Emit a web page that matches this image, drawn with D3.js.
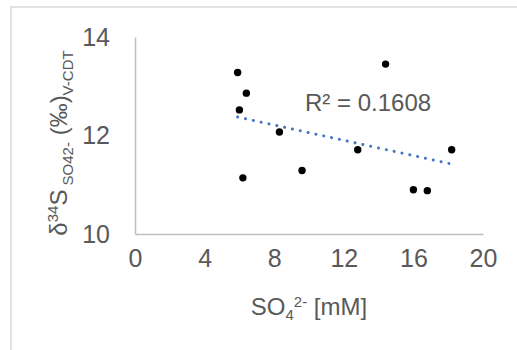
<!DOCTYPE html>
<html>
<head>
<meta charset="utf-8">
<script src="https://cdn.jsdelivr.net/npm/d3@7"></script>
<style>
  html, body { margin: 0; padding: 0; background: #fff; }
  svg { display: block; font-family: Arial, "Liberation Sans", sans-serif; }
</style>
</head>
<body>
<svg id="chart" width="517" height="350"></svg>
<script>
// sulfate concentration [mM] and d34S of sulfate
const so4 = [5.9, 6.0, 6.2, 6.4, 8.3, 9.6, 12.8, 14.4, 16.0, 16.8, 18.2];
const d34S = [13.28, 12.52, 11.14, 12.86, 12.07, 11.29, 11.71, 13.45, 10.90, 10.88, 11.71];
const xTicks = [0, 4, 8, 12, 16, 20];
const yTicks = [10, 12, 14];
const r2Label = 'R² = 0.1608';

const textColor = '#595959';
const axisColor = '#bfbfbf';

const svg = d3.select('#chart');

// outer chart frame (cropped at right/bottom)
svg.append('rect')
  .attr('x', 11).attr('y', 7)
  .attr('width', 1000).attr('height', 1000)
  .attr('fill', '#fff')
  .attr('stroke', '#d9d9d9').attr('stroke-width', 1.5);

const x = d3.scaleLinear().domain([0, 20]).range([135, 483]);
const y = d3.scaleLinear().domain([10, 14]).range([234, 37]);

const xAxis = svg.append('g')
  .attr('transform', `translate(0,${y(10)})`)
  .call(d3.axisBottom(x).tickValues(xTicks).tickFormat(d3.format('d')).tickSize(0).tickPadding(24));
const yAxis = svg.append('g')
  .attr('transform', `translate(${x(0)},0)`)
  .call(d3.axisLeft(y).tickValues(yTicks).tickFormat(d3.format('d')).tickSize(0).tickPadding(25));

[xAxis, yAxis].forEach(g => {
  g.select('.domain').attr('stroke', axisColor).attr('stroke-width', 1.5);
  g.selectAll('text')
    .attr('fill', textColor)
    .style('font-size', '25px')
    .style('font-family', 'Arial, "Liberation Sans", sans-serif');
});
xAxis.selectAll('text').attr('dy', '0.35em');

// linear trendline (least squares)
const mx = d3.mean(so4), my = d3.mean(d34S);
const sxy = d3.sum(so4, (v, i) => (v - mx) * (d34S[i] - my));
const sxx = d3.sum(so4, v => (v - mx) ** 2);
const slope = sxy / sxx;
const icpt = my - slope * mx;
const ext = d3.extent(so4);

svg.append('path')
  .datum(ext.map(v => [v, icpt + slope * v]))
  .attr('d', d3.line().x(d => x(d[0])).y(d => y(d[1])))
  .attr('fill', 'none')
  .attr('stroke', '#4472c4')
  .attr('stroke-width', 3)
  .attr('stroke-linecap', 'round')
  .attr('stroke-dasharray', '0.01 8');

svg.append('g')
  .selectAll('circle')
  .data(so4.map((v, i) => [v, d34S[i]]))
  .join('circle')
  .attr('cx', d => x(d[0]))
  .attr('cy', d => y(d[1]))
  .attr('r', 3.7)
  .attr('fill', '#000');

svg.append('text')
  .attr('x', 305).attr('y', 111)
  .attr('fill', textColor)
  .style('font-size', '24px')
  .text(r2Label);

// x title
const xt = svg.append('text')
  .attr('x', (x(0) + x(20)) / 2).attr('y', 315)
  .attr('text-anchor', 'middle')
  .attr('fill', textColor)
  .style('font-size', '24px');
xt.append('tspan').text('SO');
xt.append('tspan').attr('dy', 5).style('font-size', '15px').text('4');
xt.append('tspan').attr('dy', -13).style('font-size', '15px').text('2-');
xt.append('tspan').attr('dy', 8).text(' [mM]');

// y title
const yt = svg.append('text')
  .attr('transform', 'translate(67,143) rotate(-90)')
  .attr('text-anchor', 'middle')
  .attr('fill', textColor)
  .style('font-size', '24px');
yt.append('tspan').text('δ');
yt.append('tspan').attr('dy', -9).style('font-size', '15px').text('34');
yt.append('tspan').attr('dy', 9).text('S');
yt.append('tspan').attr('dy', 6).style('font-size', '15px').text(' SO42-');
yt.append('tspan').attr('dy', -6).text(' (‰)');
yt.append('tspan').attr('dy', 6).style('font-size', '15px').text('V-CDT');
</script>
</body>
</html>
